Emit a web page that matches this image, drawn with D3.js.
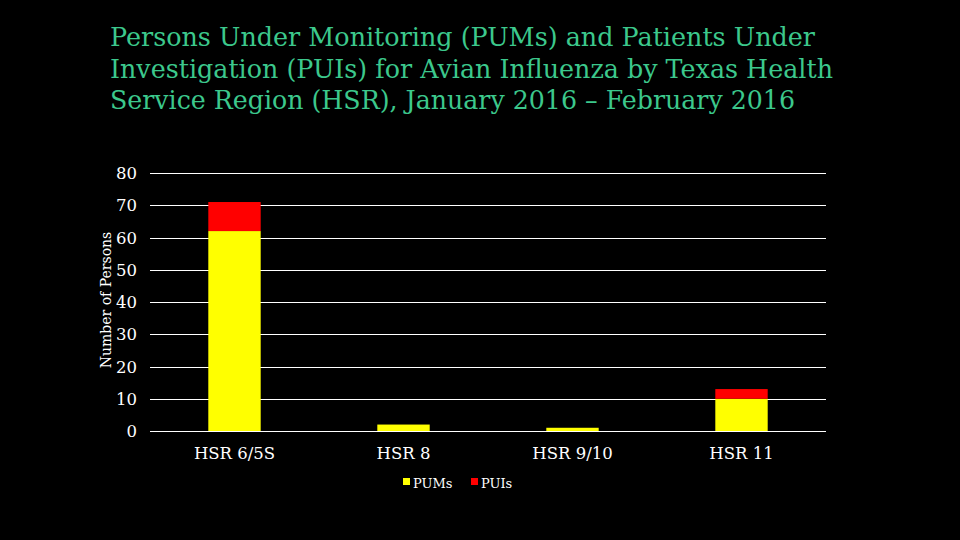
<!DOCTYPE html>
<html><head><meta charset="utf-8">
<script src="https://cdn.jsdelivr.net/npm/d3@7"></script>
<style>body{margin:0;background:#000;}svg{display:block;}</style>
</head><body>
<svg id="c" width="960" height="540"></svg>
<script>
const categories = ["HSR 6/5S", "HSR 8", "HSR 9/10", "HSR 11"];
const pums = [62, 2, 1, 10];
const puis = [9, 0, 0, 3];
const seriesNames = ["PUMs", "PUIs"];
const yTicks = [0, 10, 20, 30, 40, 50, 60, 70, 80];
const titleLines = [
  "Persons Under Monitoring (PUMs) and Patients Under",
  "Investigation (PUIs) for Avian Influenza by Texas Health",
  "Service Region (HSR), January 2016 \u2013 February 2016"
];
const colors = ["#ffff00", "#ff0000"];

const svg = d3.select("#c");
svg.append("rect").attr("width", 960).attr("height", 540).attr("fill", "#000");

const serif = "'DejaVu Serif', 'Liberation Serif', serif";
svg.append("g").selectAll("text").data(titleLines).join("text")
  .attr("x", 110).attr("y", (d, i) => 46 + i * 31.5)
  .attr("fill", "#3cc88c").attr("font-family", serif)
  .attr("font-size", 26).attr("textLength", (d,i)=>[705,723,685][i]).attr("lengthAdjust","spacingAndGlyphs")
  .text(d => d);

const x0 = 150, x1 = 826, yTop = 173, yBot = 431;
const x = d3.scaleBand().domain(categories).range([x0, x1]).paddingInner(0.69).paddingOuter(0.345);
const y = d3.scaleLinear().domain([0, 80]).range([yBot, yTop]);

// gridlines
svg.append("g").selectAll("line").data(yTicks).join("line")
  .attr("x1", x0).attr("x2", x1)
  .attr("y1", d => Math.round(y(d)) + 0.5).attr("y2", d => Math.round(y(d)) + 0.5)
  .attr("stroke", "#fff").attr("stroke-width", 1);

// tick labels
svg.append("g").selectAll("text").data(yTicks).join("text")
  .attr("x", 137).attr("y", d => y(d) + 6)
  .attr("text-anchor", "end").attr("fill", "#fff")
  .attr("font-family", serif).attr("font-size", 16.5)
  .text(d => d);

// stacked bars
const data = categories.map((c, i) => ({cat: c, PUMs: pums[i], PUIs: puis[i]}));
const stack = d3.stack().keys(seriesNames)(data);
svg.append("g").selectAll("g").data(stack).join("g")
  .attr("fill", (d, i) => colors[i])
  .selectAll("rect").data(d => d).join("rect")
  .attr("x", d => x(d.data.cat))
  .attr("width", x.bandwidth())
  .attr("y", d => y(d[1]))
  .attr("height", d => y(d[0]) - y(d[1]));

// category labels
svg.append("g").selectAll("text").data(categories).join("text")
  .attr("x", d => x(d) + x.bandwidth() / 2).attr("y", 459)
  .attr("text-anchor", "middle").attr("fill", "#fff")
  .attr("font-family", serif).attr("font-size", 16.5)
  .text(d => d);

// y axis title
svg.append("text")
  .attr("transform", "translate(111,300) rotate(-90)")
  .attr("text-anchor", "middle").attr("fill", "#fff")
  .attr("font-family", serif).attr("font-size", 14)
  .text("Number of Persons");

// legend
const legX = [403, 471];
const lg = svg.append("g").selectAll("g").data(seriesNames).join("g")
  .attr("transform", (d, i) => `translate(${legX[i]},478)`);
lg.append("rect").attr("width", 7).attr("height", 7).attr("fill", (d, i) => colors[i]);
lg.append("text").attr("x", 10).attr("y", 10).attr("fill", "#fff")
  .attr("font-family", serif).attr("font-size", 13).text(d => d);
</script>
</body></html>
